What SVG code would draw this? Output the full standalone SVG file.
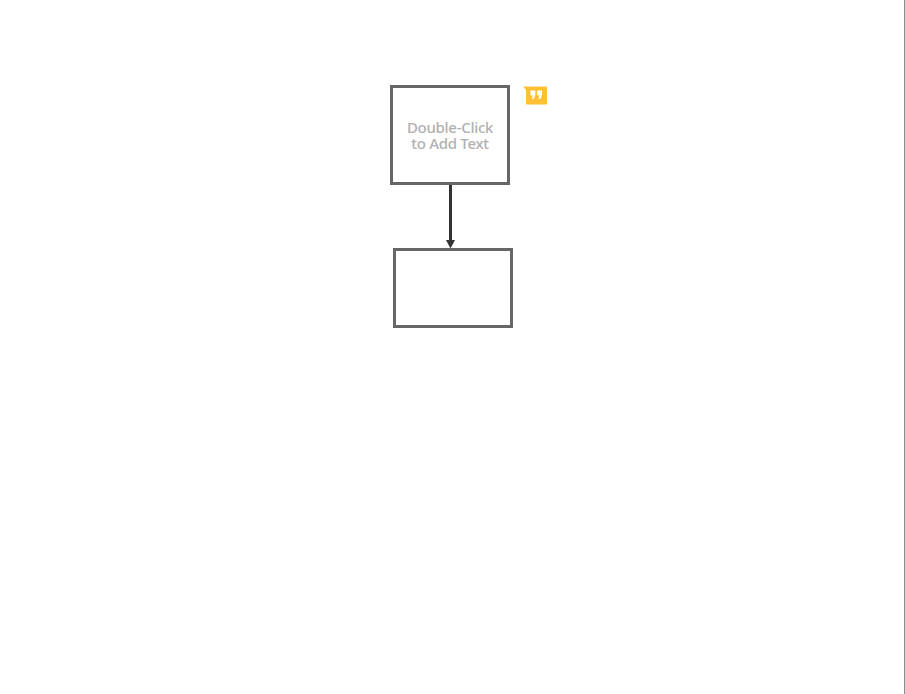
<svg xmlns="http://www.w3.org/2000/svg" width="905" height="694" viewBox="0 0 905 694">
<style>
.box{fill:#fff;stroke:#666;stroke-width:3}
.lbl{font-family:"Noto Sans","Liberation Sans",sans-serif;font-size:15px;font-weight:500;letter-spacing:-.3px;fill:#b0b0b0;text-anchor:middle}
.conn{stroke:#333;stroke-width:3;fill:none}
</style>
<rect width="905" height="694" fill="#fff"/>
<rect x="904" y="0" width="1" height="694" fill="#8c8c8c"/>
<g id="connectors"><path class="conn" d="M450.500 185V240"/><path d="M446 240H455L450.500 248.500Z" fill="#333"/></g>
<g id="node-1"><rect class="box" x="391.500" y="86.500" width="117" height="97"/><text class="lbl" x="450" y="133">Double-Click</text><text class="lbl" x="450" y="149">to Add Text</text></g>
<g id="node-2"><rect class="box" x="394.500" y="249.500" width="117" height="77"/></g>
<g id="comment-icon"><path d="M523 86.500H547V104.500H526V90Z" fill="#fec135"/><path d="M530.500 90.500h4.800v4.500l-1.600 4h-1.700l.8-3.500h-2.300ZM537.200 90.500H542v4.500l-1.600 4h-1.700l.8-3.500h-2.300Z" fill="#fff"/></g>
</svg>
